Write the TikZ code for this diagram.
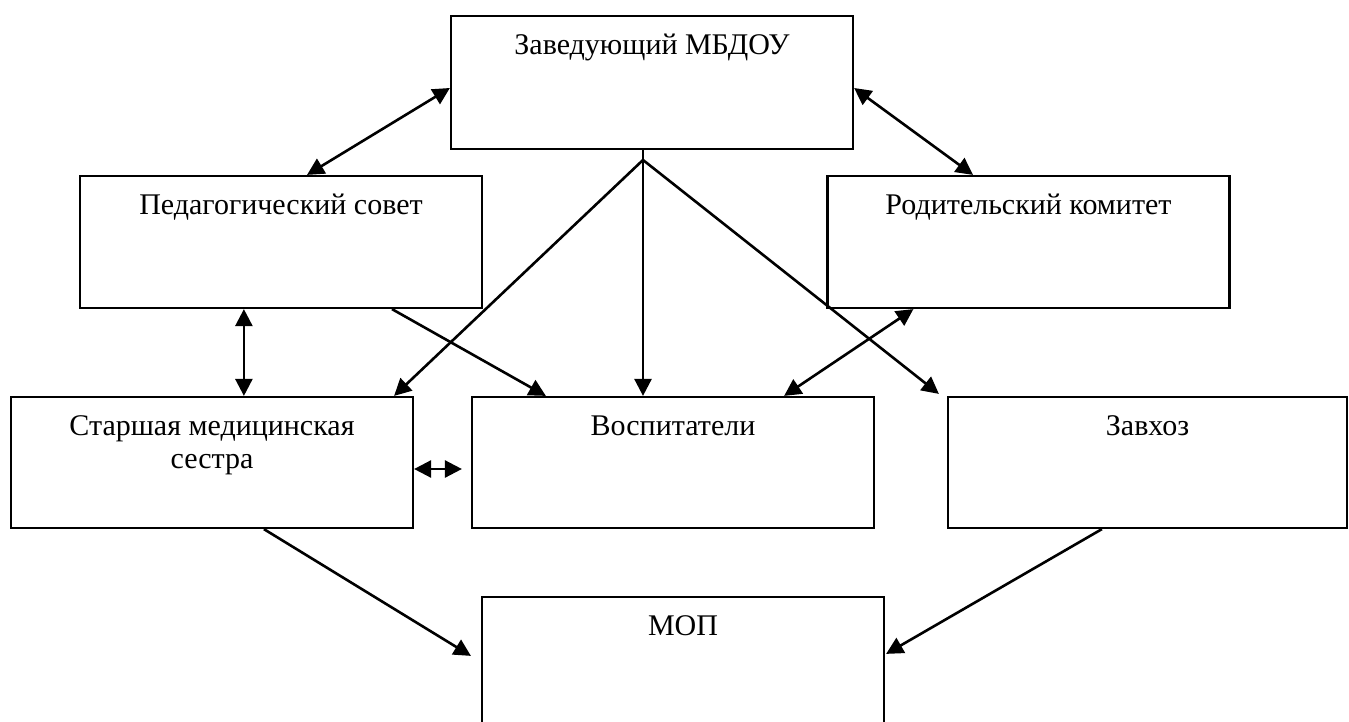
\documentclass[tikz,border=0pt]{standalone}
\usepackage{fontspec}
\setmainfont{Liberation Serif}
\usetikzlibrary{arrows.meta}

\begin{document}
\begin{tikzpicture}[x=0.5pt,y=-0.5pt]

	\tikzstyle{edge} = [draw, line width=1.3pt, -{Triangle[length=8.5pt,width=8.5pt]}]
	\tikzstyle{biedge} = [draw, line width=1.3pt, {Triangle[length=8.5pt,width=8.5pt]}-{Triangle[length=8.5pt,width=8.5pt]}]

	\clip (0,0) rectangle (1349,722);

	\tikzset{unit/.style = {shape=rectangle, draw, line width=1.1pt, minimum width=201pt, minimum height=65.5pt, inner sep=0pt}}
	\tikzset{caption/.style = {anchor=base, yshift=-20pt, align=center, inner sep=0pt, font=\fontsize{15}{16.5}\selectfont}}

	% top row
	\node[unit, minimum height=66.5pt, label={[caption]north:Заведующий МБДОУ}] (zav) at (652,82.5) {};
	\node[unit, minimum height=66pt, label={[caption]north:Педагогический совет}] (ped) at (281,242) {};
	\node[unit, minimum height=66pt, label={[caption]north:Родительский комитет}] (rod) at (1028.5,242) {};

	% middle row
	\node[unit, label={[caption, yshift=-16.5pt]north:{Старшая медицинская\\сестра}}] (star) at (212,462.5) {};
	\node[unit, label={[caption]north:Воспитатели}] (vos) at (673,462.5) {};
	\node[unit, minimum width=199.5pt, label={[caption]north:Завхоз}] (zavhoz) at (1147.5,462.5) {};

	\node[unit, minimum height=75pt, label={[caption]north:МОП}] (mop) at (683,672) {};

	\coordinate (fork) at (643,160);

	\draw[biedge] ([xshift=13pt]ped.north) to ([yshift=-2.75pt]zav.west);
	\draw[biedge] ([yshift=-2.75pt]zav.east) to ([xshift=-27.75pt]rod.north);

	\draw[line width=1.3pt] ([xshift=-4.5pt]zav.south) to (fork);
	\draw[edge] (fork) to ([xshift=-10pt]star.north east);
	\draw[edge] (fork) to ([xshift=-15pt]vos.north);
	\draw[edge] (fork) to ([xshift=-4pt,yshift=1pt]zavhoz.north west);

	\draw[edge] ([xshift=55.5pt]ped.south) to ([xshift=37.5pt]vos.north west);
	\draw[biedge] ([xshift=43.5pt]rod.south west) to ([xshift=-45.5pt]vos.north east);
	\draw[biedge] ([xshift=82.5pt]ped.south west) to ([xshift=117pt]star.north west);
	\draw[biedge] ([yshift=-3.25pt]star.east) to ([xshift=-4.5pt,yshift=-3.25pt]vos.west);

	\draw[edge] ([xshift=127pt]star.south west) to ([xshift=-5pt,yshift=-30pt]mop.north west);
	\draw[edge] ([xshift=77.5pt]zavhoz.south west) to ([xshift=0.5pt,yshift=-29pt]mop.north east);

\end{tikzpicture}
\end{document}
